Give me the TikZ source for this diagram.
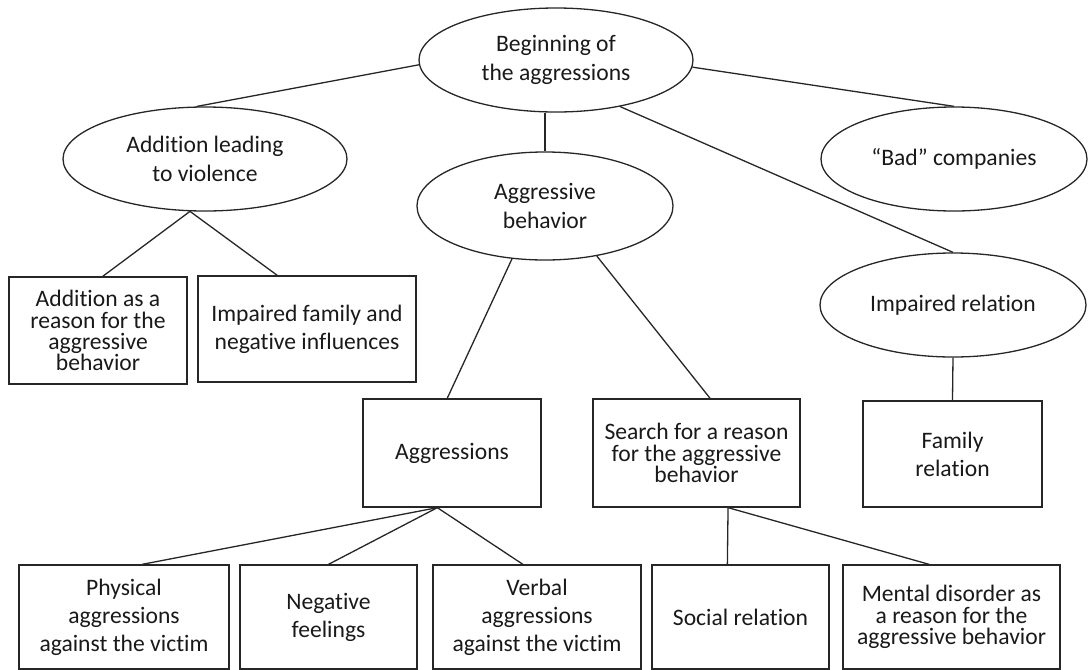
\documentclass[tikz,border=0pt]{standalone}
\usepackage{fontspec}
\setmainfont{Carlito}[Ligatures=NoCommon]
\usepackage{tikz}
\usetikzlibrary{shapes.geometric}
\tikzset{
	oval/.style={ellipse, draw=black!85, line width=0.65pt, inner sep=0pt, align=center, text=black!90, font=\fontsize{11.8pt}{14.5pt}\selectfont},
	topic/.style={rectangle, draw=black!85, line width=0.65pt, inner sep=0pt, align=center, text=black!90, font=\fontsize{11.8pt}{14pt}\selectfont},
	tight/.style={font=\fontsize{11.8pt}{10.6pt}\selectfont},
	link/.style={draw=black!85, line width=0.65pt}
}

\begin{document}
\begin{tikzpicture}[x=0.5pt, y=-0.5pt]
			%%%%% START %%%%%
			\useasboundingbox (0, 0) rectangle (1089, 670);
			
			\node[oval, minimum width=137pt, minimum height=52pt] (begin) at (556, 60) {Beginning of\\the aggressions};
			
			\node[oval, minimum width=142pt, minimum height=52pt] (addlead) at (205, 159) {Addition leading\\to violence};
			\node[oval, minimum width=128pt, minimum height=54pt] (aggbeh) at (545, 206) {Aggressive\\behavior};
			\node[oval, minimum width=133pt, minimum height=52pt] (bad) at (954, 159) {“Bad” companies};
			\node[oval, minimum width=133pt, minimum height=52pt] (imprel) at (953, 305) {Impaired relation};
			
			\node[topic, tight, minimum width=89pt, minimum height=53.5pt] (addreason) at (98, 330.5) {Addition as a\\reason for the\\aggressive\\behavior};
			\node[topic, minimum width=109pt, minimum height=53pt] (impfam) at (307, 329) {Impaired family and\\negative influences};
			
			\node[topic, minimum width=89pt, minimum height=54pt] (aggr) at (452, 453) {Aggressions};
			\node[topic, tight, minimum width=103.5pt, minimum height=54pt] (search) at (696.5, 453) {Search for a reason\\for the aggressive\\behavior};
			\node[topic, minimum width=89.5pt, minimum height=53pt] (famrel) at (952.5, 454) {Family\\relation};
			
			\node[topic, minimum width=105pt, minimum height=52pt] (phys) at (124, 617) {Physical\\aggressions\\against the victim};
			\node[topic, minimum width=88.5pt, minimum height=52pt] (negfeel) at (328.5, 617) {Negative\\feelings};
			\node[topic, minimum width=104pt, minimum height=52pt] (verbal) at (537, 617) {Verbal\\aggressions\\against the victim};
			\node[topic, minimum width=88.5pt, minimum height=52pt] (social) at (740.5, 617) {Social relation};
			\node[topic, tight, minimum width=108.5pt, minimum height=52pt] (mental) at (951.5, 617) {Mental disorder as\\a reason for the\\aggressive behavior};
			
			\draw[link] (begin.182) -- (addlead.99);
			\draw[link] (begin.south -| aggbeh.north) -- (aggbeh.north);
			\draw[link] (begin.357) -- (bad.north);
			\draw[link] (begin.324) -- (imprel.north);
			
			\draw[link] (addlead.254) -- (addreason.85);
			\draw[link] (addlead.254) -- (impfam.119);
			
			\draw[link] (aggbeh.238) -- (aggr.95);
			\draw[link] (aggbeh.316) -- (search.76);
			\draw[link] (imprel.south) -- (famrel.north);
			
			\draw[link] (aggr.255) -- (phys.71);
			\draw[link] (aggr.255) -- (negfeel.north);
			\draw[link] (aggr.255) -- (verbal.105);
			\draw[link] (search.300) -- (social.104);
			\draw[link] (search.300) -- (mental.113);
			%%%%% END %%%%%
\end{tikzpicture}
\end{document}
